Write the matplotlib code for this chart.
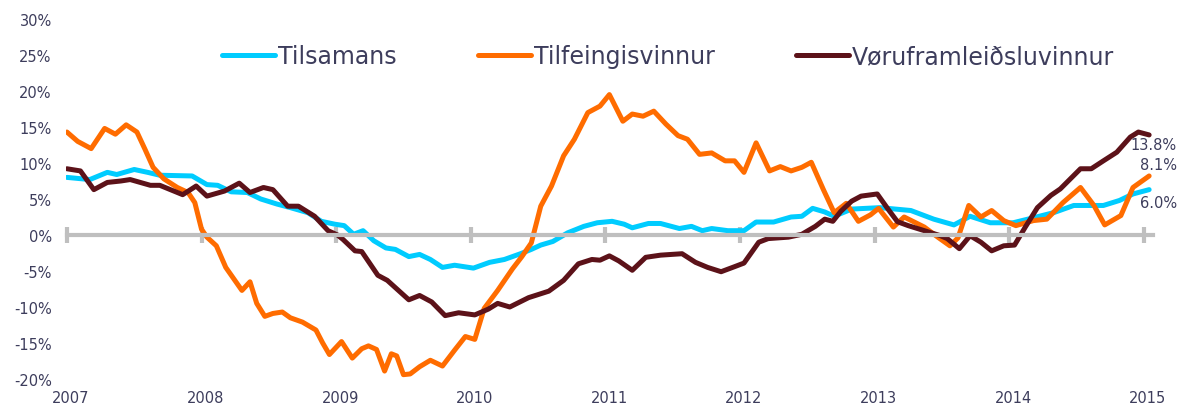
import matplotlib
matplotlib.use('Agg')
from matplotlib import pyplot as plt
from matplotlib.ticker import FuncFormatter
from matplotlib.transforms import ScaledTranslation

# Tilsamans (cyan)
x_tils = [2007.00, 2007.17, 2007.30, 2007.37, 2007.50, 2007.60, 2007.69, 2007.93, 2008.04, 2008.12,
          2008.22, 2008.34, 2008.44, 2008.56, 2008.66, 2008.79, 2008.89, 2008.99, 2009.06, 2009.13,
          2009.20, 2009.28, 2009.37, 2009.44, 2009.54, 2009.62, 2009.70, 2009.79, 2009.88, 2010.02,
          2010.14, 2010.25, 2010.37, 2010.45, 2010.52, 2010.61, 2010.72, 2010.84, 2010.94, 2011.05,
          2011.14, 2011.20, 2011.32, 2011.41, 2011.55, 2011.64, 2011.72, 2011.79, 2011.91, 2012.03,
          2012.12, 2012.25, 2012.38, 2012.46, 2012.54, 2012.63, 2012.70, 2012.83, 2013.04, 2013.27,
          2013.44, 2013.59, 2013.71, 2013.86, 2014.03, 2014.16, 2014.33, 2014.48, 2014.70, 2014.82,
          2014.92, 2015.04]
y_tils = [8.0, 7.7, 8.7, 8.4, 9.1, 8.7, 8.3, 8.2, 7.0, 6.9,
          6.0, 5.9, 5.0, 4.3, 3.8, 3.1, 1.9, 1.5, 1.3, 0.1,
          0.6, -0.8, -1.8, -2.0, -3.0, -2.7, -3.4, -4.5, -4.2, -4.6,
          -3.8, -3.4, -2.6, -2.0, -1.4, -0.9, 0.3, 1.2, 1.7, 1.9,
          1.5, 1.0, 1.6, 1.6, 0.9, 1.2, 0.6, 0.9, 0.6, 0.6,
          1.8, 1.8, 2.5, 2.6, 3.7, 3.2, 2.6, 3.6, 3.8, 3.4,
          2.2, 1.4, 2.6, 1.7, 1.7, 2.3, 3.1, 4.1, 4.1, 4.8,
          5.7, 6.3]

# Tilfeingisvinnur (orange)
x_tilf = [2007.00, 2007.08, 2007.18, 2007.28, 2007.36, 2007.44, 2007.52, 2007.58, 2007.64, 2007.72,
          2007.82, 2007.90, 2007.95, 2008.00, 2008.04, 2008.11, 2008.18, 2008.30, 2008.36, 2008.41,
          2008.47, 2008.53, 2008.60, 2008.66, 2008.75, 2008.85, 2008.90, 2008.95, 2009.04, 2009.12,
          2009.19, 2009.24, 2009.30, 2009.36, 2009.41, 2009.45, 2009.50, 2009.55, 2009.62, 2009.70,
          2009.79, 2009.88, 2009.96, 2010.03, 2010.10, 2010.20, 2010.31, 2010.38, 2010.45, 2010.52,
          2010.60, 2010.69, 2010.77, 2010.87, 2010.96, 2011.03, 2011.13, 2011.20, 2011.28, 2011.36,
          2011.45, 2011.54, 2011.61, 2011.70, 2011.79, 2011.89, 2011.96, 2012.03, 2012.12, 2012.22,
          2012.30, 2012.38, 2012.46, 2012.53, 2012.62, 2012.70, 2012.79, 2012.88, 2012.97, 2013.03,
          2013.14, 2013.22, 2013.37, 2013.47, 2013.56, 2013.62, 2013.70, 2013.79, 2013.87, 2013.96,
          2014.05, 2014.18, 2014.28, 2014.40, 2014.53, 2014.63, 2014.71, 2014.83, 2014.92, 2015.04]
y_tilf = [14.3, 13.0, 12.0, 14.8, 14.0, 15.3, 14.3, 11.9, 9.4, 7.8,
          6.6, 5.9, 4.5, 0.8, -0.3, -1.5, -4.5, -7.7, -6.5, -9.5,
          -11.3, -10.9, -10.7, -11.5, -12.1, -13.2, -15.0, -16.6, -14.8, -17.1,
          -15.8, -15.4, -15.9, -18.9, -16.5, -16.8, -19.4, -19.3, -18.3, -17.4,
          -18.2, -16.0, -14.1, -14.5, -10.2, -7.7, -4.7, -3.0, -1.1, 4.0,
          6.8, 11.0, 13.3, 17.0, 17.9, 19.5, 15.8, 16.8, 16.5, 17.2,
          15.4, 13.8, 13.3, 11.2, 11.4, 10.3, 10.3, 8.7, 12.8, 8.9,
          9.5, 8.9, 9.4, 10.1, 6.3, 3.1, 4.4, 1.9, 2.8, 3.7,
          1.1, 2.5, 1.1, -0.3, -1.5, -0.4, 4.1, 2.5, 3.4, 2.0,
          1.3, 2.0, 2.2, 4.5, 6.6, 4.1, 1.4, 2.7, 6.6, 8.2]

# Vøruframleiðsluvinnur (maroon)
x_voru = [2007.00, 2007.10, 2007.20, 2007.30, 2007.40, 2007.47, 2007.62, 2007.69, 2007.86, 2007.96,
          2008.04, 2008.17, 2008.28, 2008.36, 2008.46, 2008.53, 2008.64, 2008.72, 2008.84, 2008.94,
          2009.01, 2009.05, 2009.14, 2009.19, 2009.31, 2009.38, 2009.54, 2009.62, 2009.71, 2009.81,
          2009.91, 2010.03, 2010.13, 2010.20, 2010.29, 2010.43, 2010.58, 2010.69, 2010.80, 2010.90,
          2010.96, 2011.03, 2011.10, 2011.20, 2011.30, 2011.41, 2011.57, 2011.67, 2011.76, 2011.86,
          2011.96, 2012.03, 2012.14, 2012.21, 2012.36, 2012.46, 2012.56, 2012.63, 2012.69, 2012.75,
          2012.83, 2012.90, 2013.02, 2013.10, 2013.17, 2013.25, 2013.37, 2013.49, 2013.54, 2013.63,
          2013.71, 2013.79, 2013.87, 2013.96, 2014.04, 2014.12, 2014.21, 2014.31, 2014.38, 2014.53,
          2014.61, 2014.70, 2014.80, 2014.90, 2014.96, 2015.04]
y_voru = [9.2, 8.9, 6.3, 7.3, 7.5, 7.7, 6.9, 6.9, 5.6, 6.8,
          5.4, 6.1, 7.2, 5.9, 6.6, 6.3, 4.0, 4.0, 2.6, 0.6,
          0.0, -0.6, -2.2, -2.3, -5.6, -6.3, -9.0, -8.4, -9.3, -11.2,
          -10.8, -11.1, -10.3, -9.5, -10.0, -8.7, -7.8, -6.3, -4.0, -3.4,
          -3.5, -2.9, -3.6, -4.9, -3.1, -2.8, -2.6, -3.8, -4.5, -5.1,
          -4.4, -3.9, -1.0, -0.5, -0.3, 0.1, 1.2, 2.2, 1.9, 3.3,
          4.7, 5.4, 5.7, 3.6, 1.85, 1.3, 0.6, -0.1, -0.5, -1.9,
          -0.1, -1.0, -2.2, -1.5, -1.4, 1.1, 3.8, 5.5, 6.4, 9.2,
          9.2, 10.3, 11.5, 13.6, 14.3, 13.9]

labels = ['Tilsamans', 'Tilfeingisvinnur', 'Vøruframleiðsluvinnur']
colors = ['#00CCFF', '#FF6C00', '#5C1219']
end_labels = ['6.0%', '8.1%', '13.8%']
years = list(range(2007, 2016))

txt = '#3D3D5C'
grey = '#BFBFBF'

fig = plt.figure(figsize=(11.84, 4.10), dpi=100)
ax = fig.add_axes([0.0554, 0.0732, 0.9197, 0.878])

series = [(x_tils, y_tils), (x_tilf, y_tilf), (x_voru, y_voru)]
lines = []
for (xs, ys), lab, c in zip(series, labels, colors):
    ln, = ax.plot(xs, ys, color=c, lw=3.6, label=lab, solid_joinstyle='round', solid_capstyle='round')
    lines.append(ln)

ax.set_xlim(2006.99, 2015.08)
ax.set_ylim(-20, 30)

# zero line with crossing year ticks
for s in ['left', 'right', 'top']:
    ax.spines[s].set_visible(False)
ax.spines['bottom'].set_position(('data', 0))
ax.spines['bottom'].set_color(grey)
ax.spines['bottom'].set_linewidth(3)
ax.spines['bottom'].set_bounds(2007, 2015.07)
ax.set_xticks(years)
ax.tick_params(axis='x', direction='inout', length=12, width=3, color=grey, labelbottom=False)

sec = ax.secondary_xaxis(0)
sec.set_xticks(years)
sec.set_xticklabels([str(y) for y in years])
sec.spines['bottom'].set_visible(False)
sec.tick_params(axis='x', length=0, pad=8, labelsize=10.5, labelcolor=txt)
shift = ScaledTranslation(4 / 100, 0, fig.dpi_scale_trans)
for lbl in sec.get_xticklabels():
    lbl.set_transform(lbl.get_transform() + shift)

ax.set_yticks(range(-20, 31, 5))
ax.yaxis.set_major_formatter(FuncFormatter(lambda v, p: f'{int(v)}%'))
ax.tick_params(axis='y', length=0, pad=10, labelsize=10.5, labelcolor=txt)

# end value labels
offsets = [(20, -9), (20, 8), (20, -7)]
for (xs, ys), t, off in zip(series, end_labels, offsets):
    ax.annotate(t, xy=(xs[-1], ys[-1]), xytext=off, textcoords='offset points',
                ha='right', va='center', fontsize=10.5, color=txt)

leg = ax.legend(handles=lines, loc='center', bbox_to_anchor=(668 / 1184, 1 - 57 / 410),
                bbox_transform=fig.transFigure, ncol=3, frameon=False, fontsize=17,
                handlelength=2.25, handletextpad=0.12, columnspacing=3.45)
for t in leg.get_texts():
    t.set_color(txt)

fig.savefig('out.png', dpi=100)
